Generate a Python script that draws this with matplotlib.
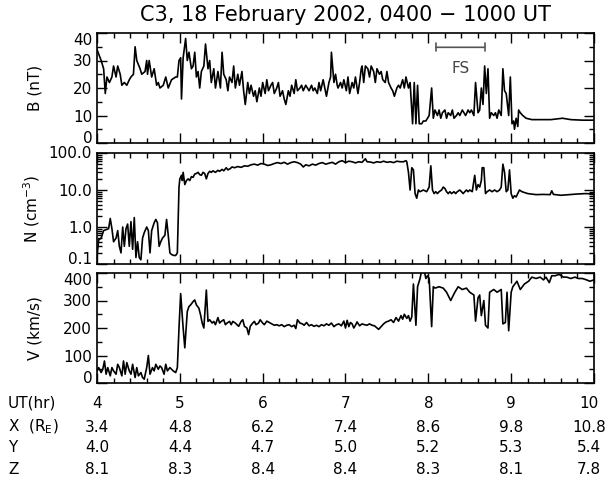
import numpy as np
import matplotlib.pyplot as plt
from matplotlib.ticker import MultipleLocator, FixedLocator, FuncFormatter, LogLocator, NullFormatter

plt.rcParams['font.family'] = 'DejaVu Sans'
plt.rcParams['font.size'] = 11
plt.rcParams['xtick.direction'] = 'in'
plt.rcParams['ytick.direction'] = 'in'
plt.rcParams['xtick.top'] = True
plt.rcParams['ytick.right'] = True

#######################################################################
#### Data (UT hours, value) ###########################################
#######################################################################
b_pts = [
    (4.00, 34), (4.05, 30), (4.08, 27), (4.10, 18), (4.12, 24), (4.15, 22), (4.18, 24), (4.20, 28),
    (4.23, 24), (4.25, 28), (4.26, 27), (4.28, 25), (4.30, 21), (4.33, 22), (4.36, 21), (4.39, 23),
    (4.41, 24), (4.44, 25), (4.46, 35), (4.48, 30), (4.52, 27), (4.54, 25), (4.58, 26), (4.60, 30),
    (4.61, 25), (4.63, 30), (4.66, 24), (4.69, 27), (4.72, 21), (4.74, 22), (4.76, 20), (4.80, 21),
    (4.83, 24), (4.86, 20), (4.90, 23), (4.95, 24), (4.97, 24), (4.99, 30), (5.01, 31), (5.02, 16),
    (5.04, 31), (5.07, 38), (5.09, 30), (5.11, 33), (5.14, 27), (5.16, 28), (5.18, 33), (5.20, 24),
    (5.22, 26), (5.24, 20), (5.26, 26), (5.29, 28), (5.31, 36), (5.34, 27), (5.36, 30), (5.38, 22),
    (5.41, 27), (5.43, 20), (5.46, 26), (5.49, 20), (5.51, 33), (5.53, 25), (5.56, 23), (5.58, 19),
    (5.60, 24), (5.63, 22), (5.65, 28), (5.67, 20), (5.70, 25), (5.72, 21), (5.75, 26), (5.77, 19),
    (5.79, 14), (5.82, 22), (5.84, 18), (5.86, 21), (5.89, 17), (5.91, 19), (5.93, 15), (5.96, 20),
    (5.98, 17), (6.00, 22), (6.03, 18), (6.05, 23), (6.07, 19), (6.10, 21), (6.12, 22), (6.14, 18),
    (6.17, 20), (6.19, 22), (6.21, 17), (6.24, 19), (6.26, 16), (6.28, 14), (6.31, 19), (6.33, 17),
    (6.35, 21), (6.38, 18), (6.40, 23), (6.42, 19), (6.45, 20), (6.47, 21), (6.49, 19), (6.52, 21),
    (6.54, 20), (6.56, 19), (6.59, 21), (6.61, 19), (6.63, 20), (6.66, 18), (6.68, 22), (6.70, 19),
    (6.73, 23), (6.75, 20), (6.77, 17), (6.80, 22), (6.82, 24), (6.83, 33), (6.86, 22), (6.88, 25),
    (6.90, 21), (6.91, 20), (6.94, 22), (6.96, 20), (6.98, 23), (7.01, 19), (7.03, 24), (7.05, 18),
    (7.08, 22), (7.10, 20), (7.12, 24), (7.15, 18), (7.17, 22), (7.19, 27), (7.20, 28), (7.22, 22),
    (7.24, 28), (7.27, 27), (7.29, 24), (7.31, 28), (7.34, 26), (7.36, 22), (7.38, 27), (7.41, 25),
    (7.43, 26), (7.45, 23), (7.48, 22), (7.50, 26), (7.52, 22), (7.55, 20), (7.57, 19), (7.59, 17),
    (7.62, 20), (7.64, 21), (7.66, 20), (7.69, 23), (7.71, 20), (7.73, 24), (7.76, 20), (7.78, 22),
    (7.79, 17), (7.81, 7), (7.83, 22), (7.85, 7), (7.87, 21), (7.89, 7), (7.92, 7), (7.94, 8),
    (7.97, 8), (7.99, 9), (8.01, 10), (8.04, 20), (8.06, 9), (8.08, 12), (8.11, 10), (8.13, 12),
    (8.15, 9), (8.17, 11), (8.20, 12), (8.22, 9), (8.24, 11), (8.27, 10), (8.29, 12), (8.31, 9),
    (8.34, 10), (8.36, 11), (8.38, 10), (8.41, 12), (8.43, 11), (8.45, 10), (8.48, 12), (8.50, 11),
    (8.52, 12), (8.55, 10), (8.57, 22), (8.60, 11), (8.62, 12), (8.64, 20), (8.66, 14), (8.68, 28),
    (8.70, 18), (8.72, 27), (8.74, 9), (8.76, 11), (8.79, 10), (8.81, 11), (8.83, 9), (8.85, 12),
    (8.88, 10), (8.90, 27), (8.92, 19), (8.94, 18), (8.97, 10), (8.99, 24), (9.01, 7), (9.03, 8),
    (9.04, 5), (9.06, 9), (9.08, 6), (9.09, 12), (9.11, 11), (9.14, 10), (9.18, 9), (9.25, 8.5),
    (9.39, 8.5), (9.48, 8.5), (9.62, 9), (9.72, 8.5), (9.86, 8.3), (10.00, 8.3),
]

n_pts = [
    (4.00, 0.15), (4.02, 0.45), (4.05, 0.5), (4.08, 0.8), (4.11, 0.85), (4.14, 0.9), (4.16, 1.7),
    (4.18, 0.9), (4.20, 0.4), (4.23, 0.5), (4.25, 0.8), (4.27, 0.3), (4.29, 0.2), (4.31, 1.0),
    (4.33, 0.3), (4.35, 0.9), (4.37, 1.2), (4.39, 0.3), (4.41, 1.4), (4.43, 0.25), (4.45, 1.8),
    (4.47, 0.15), (4.49, 0.4), (4.51, 0.15), (4.53, 0.13), (4.55, 0.5), (4.57, 0.7), (4.60, 1.0),
    (4.62, 0.8), (4.64, 0.2), (4.66, 0.8), (4.69, 1.3), (4.71, 1.6), (4.73, 1.3), (4.75, 0.3),
    (4.77, 0.4), (4.79, 0.5), (4.82, 0.6), (4.84, 1.6), (4.86, 0.6), (4.88, 0.2), (4.90, 0.18),
    (4.93, 0.17), (4.95, 0.17), (4.97, 0.2), (4.99, 12), (5.00, 20), (5.02, 25), (5.03, 18),
    (5.04, 30), (5.06, 14), (5.08, 18), (5.10, 20), (5.12, 18), (5.14, 23), (5.16, 22), (5.18, 27),
    (5.20, 28), (5.22, 30), (5.24, 26), (5.26, 25), (5.28, 30), (5.30, 28), (5.32, 20), (5.34, 28),
    (5.36, 32), (5.38, 30), (5.40, 33), (5.43, 30), (5.46, 34), (5.48, 32), (5.51, 36), (5.53, 33),
    (5.56, 40), (5.58, 35), (5.61, 38), (5.63, 42), (5.66, 40), (5.70, 43), (5.74, 41), (5.78, 45),
    (5.82, 44), (5.86, 48), (5.90, 50), (5.94, 47), (5.98, 52), (6.02, 50), (6.06, 46), (6.10, 48),
    (6.14, 52), (6.18, 55), (6.22, 52), (6.26, 56), (6.30, 50), (6.34, 55), (6.38, 58), (6.42, 55),
    (6.46, 50), (6.49, 42), (6.52, 48), (6.56, 45), (6.60, 50), (6.64, 47), (6.68, 52), (6.72, 55),
    (6.76, 50), (6.80, 53), (6.84, 56), (6.88, 50), (6.92, 58), (6.96, 62), (7.00, 55), (7.04, 60),
    (7.08, 58), (7.12, 54), (7.16, 58), (7.20, 56), (7.24, 70), (7.26, 58), (7.30, 57), (7.34, 54),
    (7.38, 58), (7.42, 56), (7.46, 60), (7.50, 56), (7.54, 58), (7.58, 55), (7.62, 60), (7.66, 58),
    (7.70, 58), (7.73, 62), (7.74, 58), (7.76, 30), (7.78, 10), (7.80, 40), (7.82, 35), (7.84, 8),
    (7.86, 6), (7.88, 10), (7.90, 9), (7.94, 10), (7.98, 9), (8.01, 12), (8.03, 45), (8.05, 10),
    (8.07, 8), (8.09, 9), (8.11, 8), (8.13, 9), (8.16, 10), (8.18, 12), (8.20, 11), (8.22, 9),
    (8.24, 8), (8.26, 9), (8.28, 8), (8.31, 9), (8.33, 8), (8.35, 9), (8.38, 10), (8.40, 9),
    (8.42, 8), (8.44, 9), (8.46, 10), (8.48, 9), (8.50, 10), (8.53, 9), (8.56, 25), (8.58, 10),
    (8.60, 14), (8.62, 12), (8.64, 18), (8.65, 40), (8.67, 40), (8.69, 8), (8.71, 9), (8.74, 10),
    (8.77, 9), (8.80, 10), (8.83, 9), (8.86, 10), (8.88, 12), (8.90, 50), (8.92, 30), (8.94, 9),
    (8.96, 10), (8.98, 35), (9.00, 8), (9.02, 6), (9.04, 7), (9.06, 6.5), (9.10, 10), (9.13, 9),
    (9.20, 8), (9.30, 7.5), (9.39, 7.6), (9.47, 7.5), (9.49, 9.5), (9.51, 7.6), (9.60, 7.2),
    (9.70, 7.5), (9.80, 7.8), (9.90, 8), (10.00, 7.8),
]

v_pts = [
    (4.00, 44), (4.02, 56), (4.05, 38), (4.07, 50), (4.09, 80), (4.11, 32), (4.13, 56), (4.16, 26),
    (4.18, 56), (4.20, 44), (4.23, 32), (4.25, 68), (4.27, 56), (4.30, 26), (4.32, 80), (4.34, 32),
    (4.36, 74), (4.39, 44), (4.41, 32), (4.43, 68), (4.46, 20), (4.48, 56), (4.50, 26), (4.53, 38),
    (4.55, 20), (4.57, 14), (4.60, 56), (4.62, 100), (4.64, 32), (4.67, 56), (4.69, 44), (4.71, 68),
    (4.74, 50), (4.76, 62), (4.78, 56), (4.81, 32), (4.83, 68), (4.85, 44), (4.88, 56), (4.90, 50),
    (4.92, 44), (4.95, 38), (4.97, 56), (4.99, 200), (5.01, 325), (5.04, 200), (5.06, 128),
    (5.09, 260), (5.11, 278), (5.13, 284), (5.16, 296), (5.18, 302), (5.20, 284), (5.23, 272),
    (5.25, 248), (5.27, 218), (5.29, 200), (5.32, 338), (5.34, 224), (5.36, 230), (5.39, 218),
    (5.41, 224), (5.43, 212), (5.46, 238), (5.48, 218), (5.50, 224), (5.53, 230), (5.55, 212),
    (5.57, 218), (5.60, 224), (5.62, 212), (5.64, 224), (5.67, 218), (5.69, 212), (5.71, 206),
    (5.74, 224), (5.76, 230), (5.78, 206), (5.81, 200), (5.83, 176), (5.85, 206), (5.88, 218),
    (5.90, 224), (5.92, 212), (5.95, 218), (5.97, 230), (6.00, 218), (6.02, 212), (6.05, 225),
    (6.08, 220), (6.11, 215), (6.14, 210), (6.17, 212), (6.20, 208), (6.23, 212), (6.26, 205),
    (6.29, 210), (6.32, 212), (6.35, 205), (6.38, 210), (6.40, 198), (6.42, 230), (6.45, 218),
    (6.48, 215), (6.50, 210), (6.53, 220), (6.56, 208), (6.59, 212), (6.62, 206), (6.65, 210),
    (6.68, 205), (6.71, 212), (6.74, 208), (6.77, 215), (6.80, 210), (6.83, 218), (6.86, 205),
    (6.89, 212), (6.92, 215), (6.95, 208), (6.98, 225), (7.00, 200), (7.02, 228), (7.04, 205),
    (7.06, 220), (7.08, 215), (7.10, 200), (7.12, 210), (7.14, 222), (7.17, 208), (7.20, 215),
    (7.23, 212), (7.26, 210), (7.29, 215), (7.32, 210), (7.35, 208), (7.38, 200), (7.40, 195),
    (7.43, 205), (7.46, 215), (7.49, 222), (7.52, 225), (7.55, 230), (7.58, 220), (7.61, 238),
    (7.64, 225), (7.67, 245), (7.69, 232), (7.71, 250), (7.74, 235), (7.76, 245), (7.78, 225),
    (7.80, 240), (7.82, 360), (7.85, 210), (7.87, 350), (7.90, 380), (7.92, 410), (7.94, 425),
    (7.97, 380), (7.99, 390), (8.01, 380), (8.04, 205), (8.06, 350), (8.08, 345), (8.13, 350),
    (8.18, 345), (8.22, 330), (8.27, 300), (8.32, 330), (8.36, 350), (8.41, 340), (8.46, 345),
    (8.50, 330), (8.55, 320), (8.57, 225), (8.60, 310), (8.62, 320), (8.64, 245), (8.67, 300),
    (8.69, 210), (8.72, 200), (8.74, 330), (8.79, 340), (8.83, 330), (8.88, 340), (8.90, 215),
    (8.93, 220), (8.95, 330), (8.97, 190), (9.00, 330), (9.02, 350), (9.07, 370), (9.11, 340),
    (9.16, 360), (9.21, 370), (9.25, 385), (9.30, 380), (9.35, 385), (9.39, 375), (9.42, 385),
    (9.44, 375), (9.46, 365), (9.49, 390), (9.53, 390), (9.58, 395), (9.63, 385), (9.67, 385),
    (9.72, 380), (9.77, 385), (9.81, 380), (9.86, 380), (9.91, 375), (9.95, 370), (10.00, 375),
]

# Foreshock interval marker
fs_start, fs_end, fs_level = 8.09, 8.68, 34.8

# Ephemeris table
ut_hours = [4, 5, 6, 7, 8, 9, 10]
pos_x = ['3.4', '4.8', '6.2', '7.4', '8.6', '9.8', '10.8']
pos_y = ['4.0', '4.4', '4.7', '5.0', '5.2', '5.3', '5.4']
pos_z = ['8.1', '8.3', '8.4', '8.4', '8.3', '8.1', '7.8']

b_t, b_val = np.array(b_pts).T
n_t, n_val = np.array(n_pts).T
v_t, v_val = np.array(v_pts).T

#######################################################################
#### Figure ###########################################################
#######################################################################
fig = plt.figure(figsize=(6.09, 4.83), dpi=100)
left, width = 97/609, 497/609
ax1 = fig.add_axes([left, 1-143/483, width, 110/483])
ax2 = fig.add_axes([left, 1-264/483, width, 111/483])
ax3 = fig.add_axes([left, 1-383/483, width, 110/483])

for ax in (ax1, ax2, ax3):
    ax.set_xlim(4, 10)
    ax.xaxis.set_major_locator(MultipleLocator(1))
    ax.xaxis.set_minor_locator(MultipleLocator(0.2))
    ax.tick_params(axis='x', labelbottom=False)
    ax.tick_params(which='major', length=7, width=1.0)
    ax.tick_params(which='minor', length=3.5, width=1.0)
    for s in ax.spines.values():
        s.set_linewidth(1.2)
    ax.yaxis.set_label_coords(-0.11, 0.5)

# B
ax1.plot(b_t, b_val, color='k', lw=1.2)
ax1.set_ylim(0, 40)
ax1.yaxis.set_major_locator(MultipleLocator(10))
ax1.yaxis.set_minor_locator(MultipleLocator(5))
ax1.set_ylabel('B (nT)')
ax1.annotate('', xy=(fs_start, fs_level), xytext=(fs_end, fs_level),
             arrowprops=dict(arrowstyle='|-|,widthA=0.25,widthB=0.25', color='#555555', lw=1.2,
                             shrinkA=0, shrinkB=0))
ax1.text((fs_start+fs_end)/2, 27, 'FS', ha='center', va='center', color='#444444')

# N
ax2.plot(n_t, n_val, color='k', lw=1.2)
ax2.set_yscale('log')
ax2.set_ylim(0.1, 100)
ax2.yaxis.set_major_locator(FixedLocator([0.1, 1, 10, 100]))
ax2.yaxis.set_minor_locator(LogLocator(base=10, subs=np.arange(2, 10)))
ax2.yaxis.set_major_formatter(FuncFormatter(lambda v, p: '%.1f' % v))
ax2.yaxis.set_minor_formatter(NullFormatter())
ax2.set_ylabel('N (cm$^{-3}$)')

# V
ax3.plot(v_t, v_val, color='k', lw=1.2)
ax3.set_ylim(0, 400)
ax3.yaxis.set_major_locator(MultipleLocator(100))
ax3.yaxis.set_minor_locator(MultipleLocator(50))
ax3.set_ylabel('V (km/s)')

# keep the end labels inside the panel height, as the original does
fig.canvas.draw()
for ax, top_va in ((ax1, 'top'), (ax2, 'center'), (ax3, 'top')):
    lo, hi = ax.get_ylim()
    for tk, loc in zip(ax.yaxis.get_major_ticks(), ax.yaxis.get_majorticklocs()):
        if np.isclose(loc, lo):
            tk.label1.set_va('baseline')
        elif np.isclose(loc, hi):
            tk.label1.set_va(top_va)

fig.text(345.5/609, 1-15/483, 'C3, 18 February 2002, 0400 \u2212 1000 UT',
         ha='center', va='center', fontsize=15)

# Ephemeris table under the time axis
rows = [('UT(hr)', [str(h) for h in ut_hours]),
        ('X  (R$_\\mathregular{E}$)', pos_x),
        ('Y', pos_y),
        ('Z', pos_z)]
row_y = [403, 427, 448, 470]
for (lab, vals), yy in zip(rows, row_y):
    fig.text(8/609, 1-yy/483, lab, ha='left', va='center')
    for h, s in zip(ut_hours, vals):
        xpix = left*609 + (h-4)/6*497
        if h == 10:
            xpix -= 5
        fig.text(xpix/609, 1-yy/483, s, ha='center', va='center')

fig.savefig('out.png', dpi=100)
